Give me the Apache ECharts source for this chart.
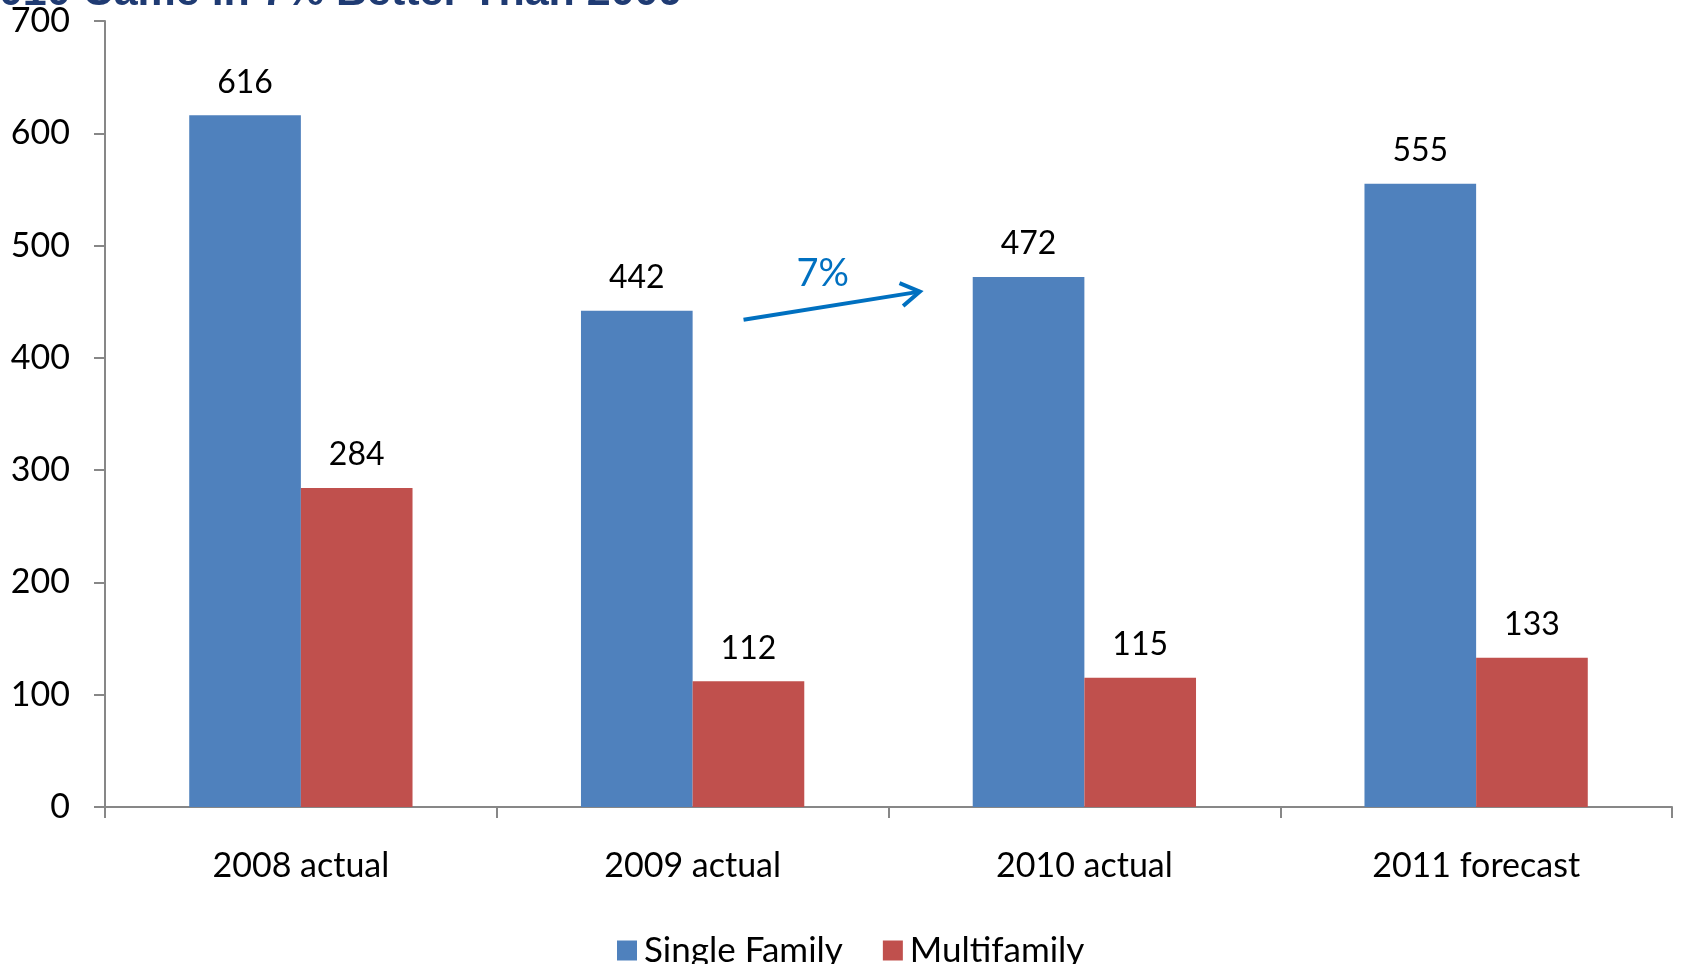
<!DOCTYPE html>
<html>
<head>
<meta charset="utf-8">
<script src="https://cdn.jsdelivr.net/npm/echarts@6/dist/echarts.min.js"></script>
<style>
  html, body { margin: 0; padding: 0; background: #fff; }
  #chart { width: 1683px; height: 964px; }
</style>
</head>
<body>
<div id="chart"></div>
<script>
// Housing starts, thousands of units
const categories = ['2008 actual', '2009 actual', '2010 actual', '2011 forecast'];
const singleFamily = [616, 442, 472, 555];
const multifamily = [284, 112, 115, 133];
const yTicks = { min: 0, max: 700, interval: 100 };
const headline = '2010 Came in 7% Better Than 2009';
const changeLabel = '7%';

const FONT = 'Lato, "Open Sans", sans-serif';
const chart = echarts.init(document.getElementById('chart'), null, { renderer: 'canvas' });

const labelStyle = {
  show: true,
  position: 'top',
  distance: 17,
  color: '#000',
  fontFamily: FONT,
  fontSize: 32
};

chart.setOption({
  animation: false,
  backgroundColor: '#fff',
  grid: { left: 105, right: 11, top: 21, bottom: 157, containLabel: false },
  legend: {
    left: 612,
    top: 928,
    itemWidth: 20,
    itemHeight: 20,
    itemGap: 40,
    icon: 'rect',
    textStyle: { fontFamily: FONT, fontSize: 35, color: '#000', padding: [0, 0, 0, 2] },
    data: ['Single Family', 'Multifamily']
  },
  xAxis: {
    type: 'category',
    data: categories,
    axisLine: { lineStyle: { color: '#878787', width: 2 } },
    axisTick: { show: true, length: 11, lineStyle: { color: '#878787', width: 2 } },
    axisLabel: { color: '#000', fontFamily: FONT, fontSize: 34, margin: 42 },
    splitLine: { show: false }
  },
  yAxis: {
    type: 'value',
    min: yTicks.min,
    max: yTicks.max,
    interval: yTicks.interval,
    axisLine: { show: true, lineStyle: { color: '#878787', width: 2 } },
    axisTick: { show: true, length: 11, lineStyle: { color: '#878787', width: 2 } },
    axisLabel: { color: '#000', fontFamily: FONT, fontSize: 34, margin: 35 },
    splitLine: { show: false }
  },
  series: [
    {
      name: 'Single Family',
      type: 'bar',
      data: singleFamily,
      itemStyle: { color: '#4F81BD' },
      barGap: '0%',
      barCategoryGap: '43%',
      label: labelStyle
    },
    {
      name: 'Multifamily',
      type: 'bar',
      data: multifamily,
      itemStyle: { color: '#C0504D' },
      barGap: '0%',
      barCategoryGap: '43%',
      label: labelStyle
    }
  ]
});

// Headline and growth arrow between the 2009 and 2010 single-family bars
function drawAnnotations() {
  const c09 = chart.convertToPixel({ xAxisIndex: 0 }, categories[1]);
  const c10 = chart.convertToPixel({ xAxisIndex: 0 }, categories[2]);
  const step = c10 - c09;
  const x1 = c09 + step * 0.13;
  const x2 = c10 - step * 0.42;
  const y1 = chart.convertToPixel({ yAxisIndex: 0 }, 434);
  const y2 = chart.convertToPixel({ yAxisIndex: 0 }, 459);
  const ang = Math.atan2(y2 - y1, x2 - x1);
  const head = 22;
  const spread = 0.55;
  const hx1 = x2 - head * Math.cos(ang - spread), hy1 = y2 - head * Math.sin(ang - spread);
  const hx2 = x2 - head * Math.cos(ang + spread), hy2 = y2 - head * Math.sin(ang + spread);
  const blue = '#0070C0';
  chart.setOption({
    graphic: [
      {
        type: 'text', x: -25, y: 15,
        style: {
          text: headline, fill: '#1F3B73',
          font: 'bold 43px "Liberation Sans", Arial, sans-serif',
          verticalAlign: 'bottom'
        }
      },
      {
        type: 'line',
        shape: { x1: x1, y1: y1, x2: x2, y2: y2 },
        style: { stroke: blue, lineWidth: 4 }
      },
      {
        type: 'polyline',
        shape: { points: [[hx1, hy1], [x2, y2], [hx2, hy2]] },
        style: { stroke: blue, lineWidth: 4, fill: null }
      },
      {
        type: 'text',
        x: (x1 + x2) / 2 - 9, y: (y1 + y2) / 2 - 32,
        style: { text: changeLabel, fill: blue, font: '38px Lato, "Open Sans", sans-serif', align: 'center', verticalAlign: 'middle' }
      }
    ]
  });
}
drawAnnotations();
</script>
</body>
</html>
